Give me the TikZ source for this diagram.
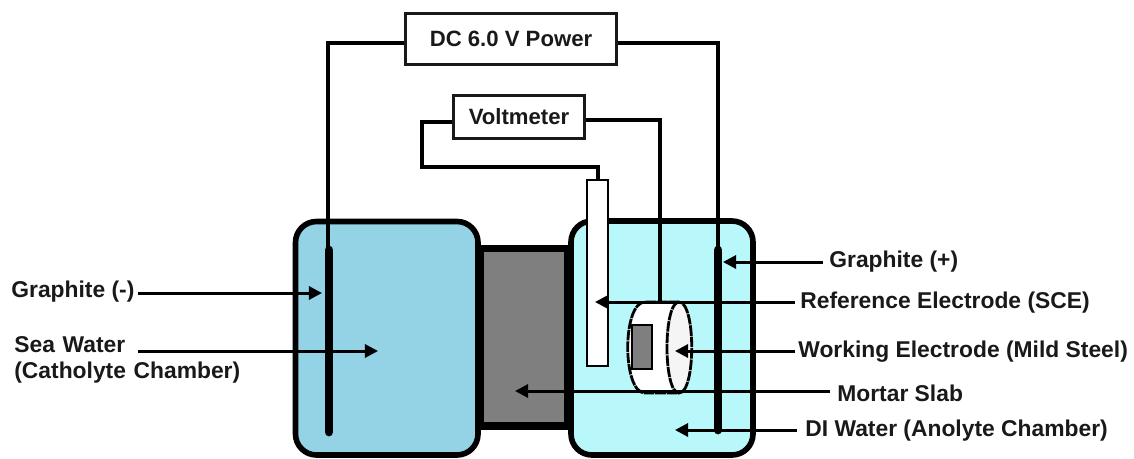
\documentclass[tikz,border=0pt]{standalone}
\usepackage{fontspec}
\setmainfont{Liberation Sans}
\usetikzlibrary{arrows.meta}
\definecolor{seaw}{HTML}{94D3E6}
\definecolor{diw}{HTML}{B8F8FA}
\definecolor{slab}{HTML}{7F7F7F}
\tikzset{
  x=0.02cm,y=-0.02cm,
  lab/.style={font=\bfseries\fontsize{13pt}{14.8pt}\selectfont,inner sep=0pt,text=black!90,align=left},
  boxn/.style={draw=black!90,line width=1.7pt,fill=white,font=\bfseries\fontsize{12.6pt}{14pt}\selectfont,inner sep=0pt,text=black!90},
  wire/.style={black,line width=2.3pt},
  elec/.style={black,line width=5pt,line cap=round},
  thinw/.style={black,line width=1.6pt},
  lead/.style={black,line width=1.7pt,-{Triangle[length=7.5pt,width=7.5pt]}},
  tank/.style={draw=black,line width=3.2pt,rounded corners=0.42cm},
}
\begin{document}
\begin{tikzpicture}
\useasboundingbox (0,0) rectangle (1134,458);
% chambers
\draw[draw=black,line width=4pt,fill=slab] (480,248.5) rectangle (568,426);
\draw[tank,fill=seaw] (295.5,221.5) rectangle (478,455);
\draw[tank,fill=diw] (571,221) rectangle (753,455);
% boxes
\node[boxn,minimum width=120.6pt,minimum height=29.5pt] (dc) at (511,39) {DC 6.0 V Power};
\node[boxn,minimum width=75pt,minimum height=25pt] (vm) at (519,117) {Voltmeter};
% working electrode
\draw[thinw,fill=white,dash pattern=on 6pt off 0.5pt] (679,302) -- (645,302) .. controls (622,302) and (622,393) .. (645,393) -- (679,393);
\draw[thinw,fill=white!96!black,dash pattern=on 6pt off 0.5pt] (679,302) .. controls (663,302) and (663,393) .. (679,393) .. controls (696,393) and (696,302) .. (679,302) -- cycle;
\draw[line width=1.5pt,fill=slab] (632,325) rectangle (652,369);
% reference electrode
\draw[line width=1.5pt,fill=white] (587,180) rectangle (608,366);
% electrodes and wires
\coordinate (glt) at (329,250);
\coordinate (glb) at (329,432);
\coordinate (grt) at (718,250);
\coordinate (grb) at (718,430);
\coordinate (wtop) at (660,302);
\draw[wire] (dc.west |- 0,43) -- (328,43) -- (328,250);
\draw[wire] (dc.east |- 0,43) -- (718,43) -- (grt);
\draw[elec] (glt) -- (glb);
\draw[elec] (grt) -- (grb);
\draw[wire] (vm.west |- 0,122) -- (422,122) -- (422,167) -- (598,167) -- (598,180);
\draw[wire] (vm.east |- 0,120) -- (660,120) -- (wtop);
% labels
\node[lab,anchor=west] (t1) at (829,262) {Graphite (+)};
\node[lab,anchor=west] (t2) at (800,303) {Reference Electrode (SCE)};
\node[lab,anchor=west] (t3) at (798,352) {Working Electrode (Mild Steel)};
\node[lab,anchor=west] (t4) at (837,393) {Mortar Slab};
\node[lab,anchor=west] (t5) at (805,431) {DI Water (Anolyte Chamber)};
\node[lab,anchor=west] (t6) at (11,292) {Graphite (-)};
\node[lab,anchor=west,text width=190pt] (t7) at (14,360) {Sea Water\\(Catholyte Chamber)};
% leaders
\coordinate (a1) at (723,262);
\coordinate (a2) at (595,302);
\coordinate (a3) at (675,351);
\coordinate (a4) at (515,391);
\coordinate (a5) at (675,430);
\coordinate (a6) at (322,293);
\coordinate (a7) at (378,351);
\coordinate (b1) at (823,262);
\coordinate (b2) at (795,302);
\coordinate (b3) at (795,351);
\coordinate (b4) at (830,391);
\coordinate (b5) at (797,430);
\coordinate (b6) at (138,293);
\coordinate (b7) at (138,351);
\draw[lead] (b1) -- (a1);
\draw[lead] (b2) -- (a2);
\draw[lead] (b3) -- (a3);
\draw[lead] (b4) -- (a4);
\draw[lead] (b5) -- (a5);
\draw[lead] (b6) -- (a6);
\draw[lead] (b7) -- (a7);
\end{tikzpicture}
\end{document}
